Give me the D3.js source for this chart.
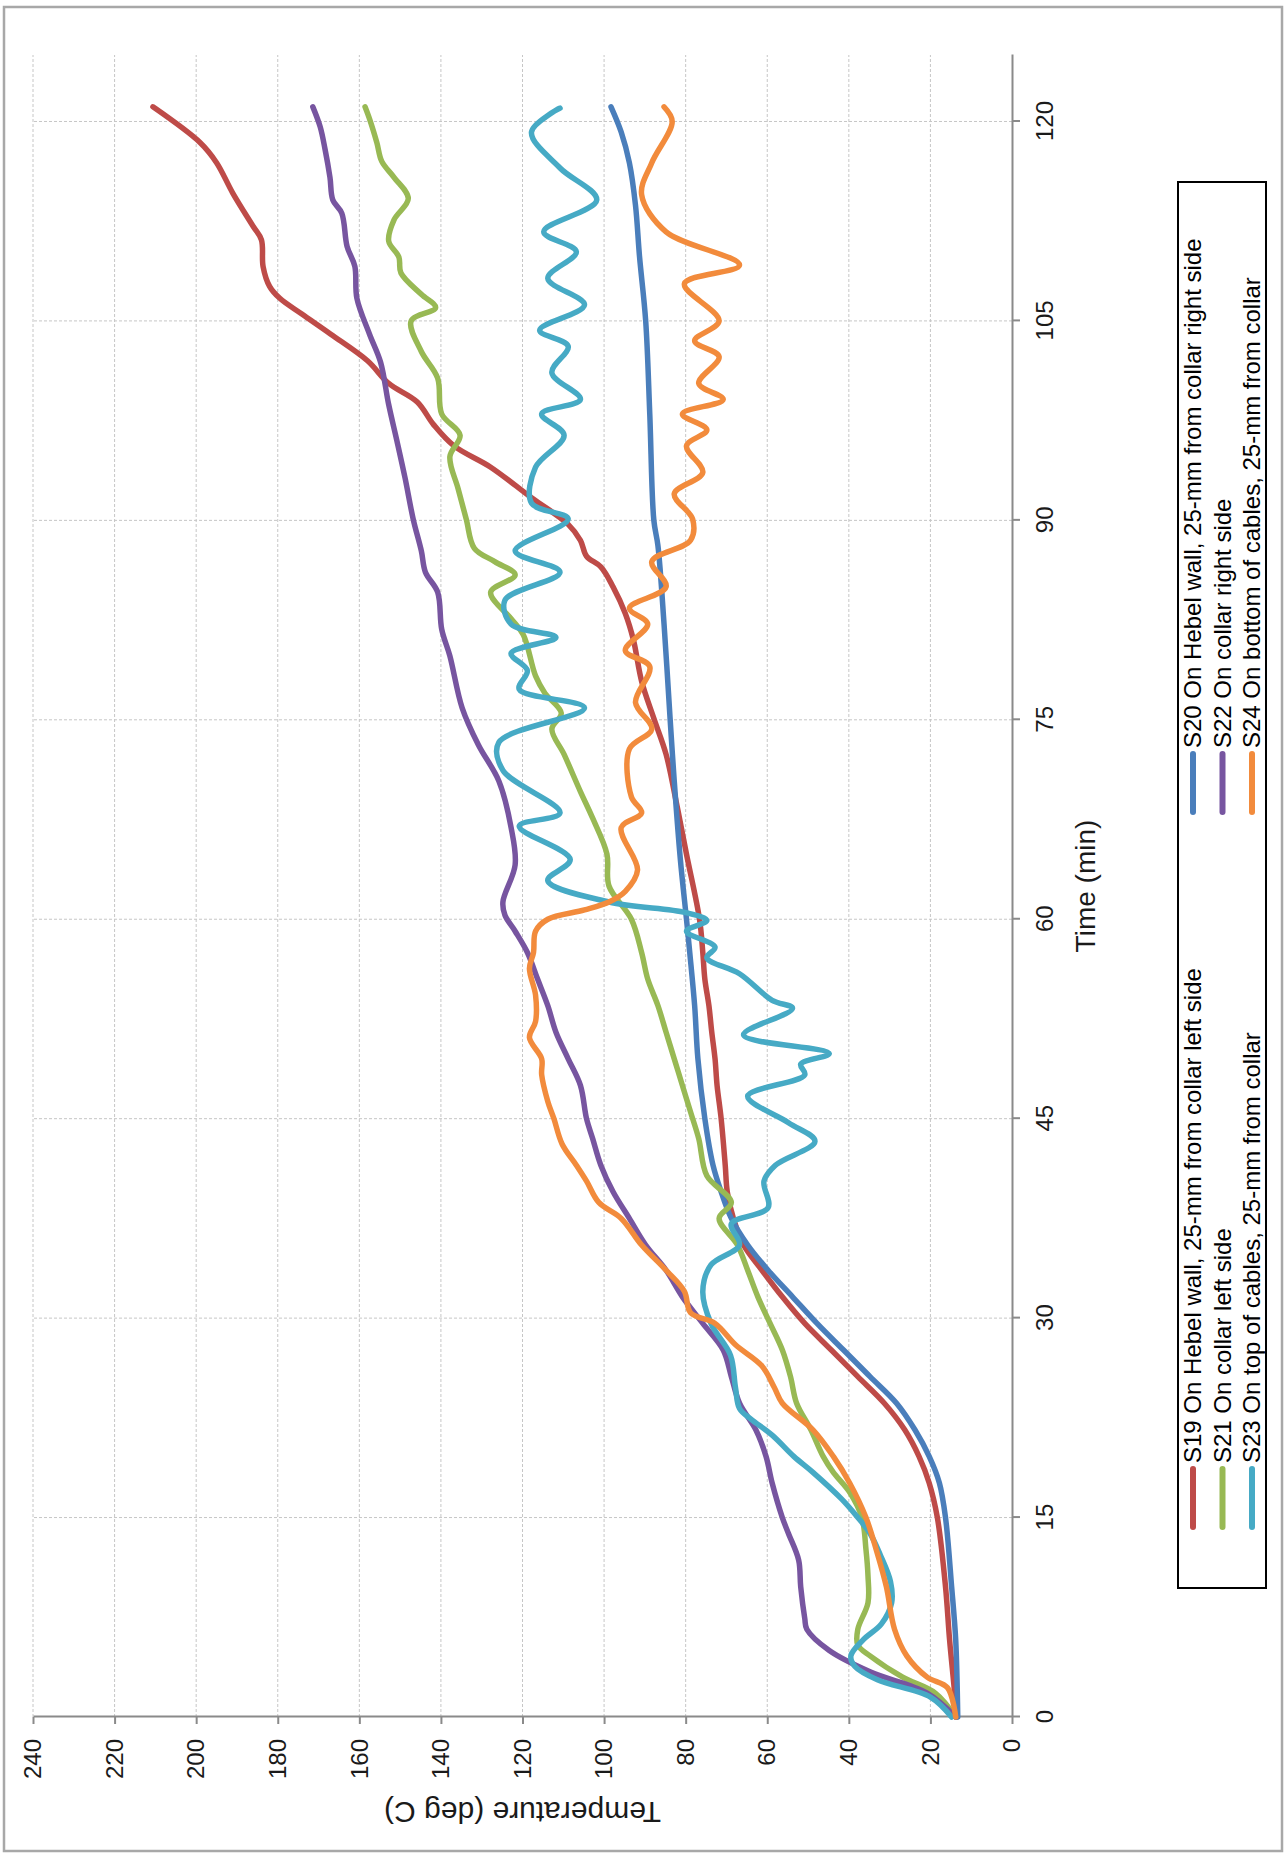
<!DOCTYPE html>
<html>
<head>
<meta charset="utf-8">
<script src="https://cdn.jsdelivr.net/npm/d3@7/dist/d3.min.js"></script>
<style>
  html, body { margin: 0; padding: 0; background: #fff; }
  svg { display: block; font-family: "Liberation Sans", Arial, sans-serif; }
</style>
</head>
<body>
<svg id="chart" width="1286" height="1854"></svg>
<script>
// ---- Data (time in min, temperature in deg C) ----
const timeTicks = [0, 15, 30, 45, 60, 75, 90, 105, 120];
const tempTicks = [0, 20, 40, 60, 80, 100, 120, 140, 160, 180, 200, 220, 240];

const seriesNames = [
  "S19 On Hebel wall, 25-mm from collar left side",
  "S20 On Hebel wall, 25-mm from collar right side",
  "S21 On collar left side",
  "S22 On collar right side",
  "S23 On top of cables, 25-mm from collar",
  "S24 On bottom of cables, 25-mm from collar"
];
const seriesColors = ["#BE4B48", "#4A7EBB", "#98B954", "#7755A0", "#46AAC5", "#F28B3C"];

const S19 = [[0,13.5],[2.6,14.3],[5.8,15.3],[9.8,16.3],[15,18.3],[17.6,20.3],[19.6,22.8],[21.6,26.3],[23.6,31.3],[25.6,37.8],[27.6,44.3],[29.6,50.8],[31.6,56.3],[33.6,61.3],[35.5,65.8],[37.5,68.3],[39.5,69.8],[41.5,70.3],[45,71.3],[47.5,72.3],[49.5,72.8],[51.5,73.6],[53.5,74.3],[55.5,75.3],[57.5,75.8],[60,76.6],[64.9,79.8],[68.8,82.3],[72.4,84.8],[75.1,87.8],[77.9,90.8],[81,92.8],[83,94.8],[85,97.8],[86.5,100.8],[87.3,104.3],[88.5,105.8],[89.7,108.8],[91.7,117.8],[94,127.8],[95.6,136.8],[97.2,141.8],[98.9,145.8],[100.3,152.8],[102,158],[104,167],[105.5,174],[106.7,179.5],[107.6,182],[109.1,183.6],[111.1,184],[112.1,186],[114.6,191],[116.9,195],[118.4,199],[121.1,210.6]];

const S20 = [[0,13.3],[5.8,13.8],[9.8,14.8],[15,16.3],[17.6,17.8],[19.6,20.3],[21.6,23.8],[23.6,28.3],[25.6,34.8],[27.6,41.3],[29.6,47.8],[31.6,53.8],[33.6,59.8],[35.5,64.8],[37.5,68.8],[39.5,71.3],[41.5,73.3],[45,75.3],[49.5,77],[53.5,77.8],[57.5,79],[60,79.8],[64.5,81.3],[70.4,82.8],[75,83.8],[82.2,85.3],[88.1,86.8],[90,87.8],[98,88.8],[105,89.8],[109.8,91.3],[113.7,92.3],[116.9,93.8],[119.2,95.8],[121.1,98.3]];

const S21 = [[0,13.8],[1.8,18.8],[3,26.8],[4.6,34.8],[5.4,37.8],[6.6,37.8],[8.6,35.3],[10.6,35.3],[12.6,35.8],[15,36.8],[16.9,39.8],[18.4,43.8],[19.6,46.3],[21.6,49.3],[23.6,52.8],[25.6,54.3],[27.6,56.3],[29.6,59.3],[31.6,62.3],[33.6,64.8],[35.5,67.3],[37.5,71.8],[38.7,68.8],[40.7,74.8],[43.5,76.8],[45.5,78.8],[47.5,80.8],[49.5,82.8],[51.5,84.8],[53.5,86.8],[55.5,89.3],[57.5,90.8],[60,93.3],[62.5,98.8],[64.9,99.3],[67.6,102.8],[69.6,105.8],[72.4,109.8],[74.3,112.8],[75.5,110.5],[77,114.5],[78.3,116.8],[81.4,119.8],[82.6,122.8],[84.6,127.8],[85.9,121.8],[86.9,126.8],[87.9,131.8],[90.1,133.8],[92.4,135.8],[94.8,137.8],[96.4,135.3],[98,139.8],[100.7,140.8],[102.7,144.8],[105,147.3],[106,141.3],[107,144.8],[108.6,149.8],[109.8,150.3],[111,152.8],[112.6,151.5],[114.2,148],[115.8,151.5],[117,154.5],[118.4,155.7],[120.1,157.4],[121.1,158.6]];

const S22 = [[0,13.8],[1.8,20.8],[3.4,34.8],[5,44.8],[6.6,50.3],[7.4,50.8],[9.8,51.8],[11.8,52.3],[13.8,54.8],[15,56.3],[17.6,58.8],[19.6,60.3],[21.6,62.8],[23.6,66.8],[25.6,68.8],[27.6,70.8],[29.6,75.8],[31.6,80.8],[33.6,84.8],[35.5,89.8],[37.5,93.8],[39.5,97.8],[41.5,100.8],[43.5,102.8],[45,104.3],[47.5,105.8],[49.5,108.8],[51.5,111.8],[53.5,113.8],[55.5,116.3],[57.5,118.8],[59.1,121.8],[60.3,124.3],[61.3,124.8],[64.1,121.8],[66.9,122.8],[70.4,125.8],[73.1,130.8],[75.9,134.8],[79.8,137.8],[81.8,139.8],[84.6,140.8],[86.1,143.8],[87.7,144.8],[90.1,146.8],[93.2,148.8],[96,150.8],[98.7,152.8],[101.9,154.8],[104,157.5],[106.7,160.6],[109.1,161.1],[110.6,163],[113.1,164.3],[114.1,166.5],[115.8,167.2],[117.9,168.4],[119.6,169.6],[121.1,171.4]];

const S23 = [[0,14.8],[1.5,20],[2.8,33],[3.8,38.5],[4.6,39.5],[5.8,36.5],[7,32],[8.6,29.5],[10.2,29.8],[12.2,32.3],[13.8,34.8],[15,37.8],[16.4,41.8],[18.4,48.8],[19.6,53.5],[21.2,58.8],[22.4,64],[23.2,66.8],[24.8,67.8],[27.2,69],[29.6,73.8],[32,75.8],[34,73.8],[35.5,66.8],[37.1,68.8],[38.3,59.8],[40.3,60.8],[41.5,58],[43.3,48.3],[44.7,54.8],[46.7,64.8],[48.3,50.8],[49.1,51.8],[49.9,44.8],[51.3,65.8],[53.3,53.8],[53.9,58.8],[55.9,66.8],[57.1,74.8],[57.9,72.8],[59.1,79.8],[59.9,74.8],[60.5,80],[61.3,98.8],[62.9,113.8],[64.5,108.3],[67,120.8],[68,110.8],[71.2,124.8],[73.3,125.8],[75.9,104.8],[77.3,120.8],[78.7,118.8],[80,122.8],[81.2,111.8],[82.2,122.8],[84,124.3],[86.1,110.8],[87.7,121.8],[90.1,108.8],[91.3,117.8],[94,116.8],[96.4,109.8],[98,115.3],[99.1,105.8],[101.1,112.8],[103.1,108.8],[104.3,115.8],[106.2,104.8],[108.2,113.8],[110.2,106.8],[111.7,114.8],[114.1,101.8],[116.5,110.8],[119.2,117.8],[121,110.8]];

const S24 = [[0,13.8],[2.2,15.8],[3,20.8],[4.6,25.8],[6.6,28.8],[9.8,30.8],[12.6,33.3],[15,35.8],[17.6,39.8],[19.6,43.8],[21.6,48.8],[23.6,56.3],[24.8,58.3],[26.4,61.3],[28,67.8],[29.6,72.8],[30.4,78.8],[32,80.3],[33.6,84.8],[35.5,90.8],[37.5,95.8],[38.7,101.3],[40.3,104.3],[41.5,106.8],[43.1,110.3],[45,112.3],[46.3,113.8],[48.3,115.3],[49.5,115.3],[51.1,118.3],[52.3,116.8],[54.3,116.8],[56.3,118.3],[57.5,117.3],[59.1,116.8],[60,113.8],[60.7,104.8],[61.3,98.8],[62.1,94.8],[63.7,91.8],[66.9,95.8],[68,90.8],[69.2,93.3],[72.8,93.8],[74.3,88.3],[76.3,92.3],[79,88.8],[80.2,94.8],[82.2,89.3],[83.4,93.8],[85,84.8],[86.9,88.3],[88.5,78.8],[90.1,78.3],[92,82.8],[93.6,75.8],[95.6,79.8],[96.8,74.8],[98,80.8],[99.1,70.8],[100.3,76.8],[102.3,71.8],[103.5,77.8],[105,71.8],[107.8,80.3],[109.2,66.8],[111.7,84.8],[114.5,90.8],[116.9,88.3],[120,83.3],[121.1,85.3]];

const seriesData = [S19, S20, S21, S22, S23, S24];

// ---- Drawing ----
const svg = d3.select("#chart");
svg.append("rect").attr("width", 1286).attr("height", 1854).attr("fill", "#fff");
svg.append("rect").attr("x", 4).attr("y", 7).attr("width", 1278).attr("height", 1844)
  .attr("fill", "none").attr("stroke", "#a8a8a8").attr("stroke-width", 2.5);

// The whole chart is drawn in an unrotated frame and turned 90deg counter-clockwise.
const g = svg.append("g").attr("transform", "translate(0,1854) rotate(-90)");

const x = d3.scaleLinear().domain([0, 125]).range([137, 1799]);
const y = d3.scaleLinear().domain([0, 240]).range([1012, 33]);

const grid = g.append("g");
grid.selectAll("line.vg").data(timeTicks.filter(t => t > 0)).enter().append("line")
  .attr("x1", d => x(d)).attr("x2", d => x(d)).attr("y1", y(0)).attr("y2", y(240))
  .attr("stroke", "#c6c6c6").attr("stroke-width", 1).attr("stroke-dasharray", "3,2");
grid.selectAll("line.hg").data(tempTicks.filter(t => t > 0)).enter().append("line")
  .attr("x1", x(0)).attr("x2", x(125)).attr("y1", d => y(d)).attr("y2", d => y(d))
  .attr("stroke", "#c6c6c6").attr("stroke-width", 1).attr("stroke-dasharray", "3,2");

const xAxis = g.append("g").attr("transform", `translate(0,${y(0)})`)
  .call(d3.axisBottom(x).tickValues(timeTicks).tickSize(8).tickSizeOuter(0).tickPadding(16));
const yAxis = g.append("g").attr("transform", `translate(${x(0)},0)`)
  .call(d3.axisLeft(y).tickValues(tempTicks).tickSize(7).tickSizeOuter(0).tickPadding(15));
[xAxis, yAxis].forEach(a => {
  a.select(".domain").attr("stroke", "#8a8a8a").attr("stroke-width", 2);
  a.selectAll(".tick line").attr("stroke", "#8a8a8a").attr("stroke-width", 2);
  a.selectAll(".tick text").attr("fill", "#1a1a1a").style("font-size", "24px")
    .style("font-family", "'Liberation Sans', Arial, sans-serif");
});

g.append("text").attr("x", (x(0) + x(125)) / 2).attr("y", 1095)
  .attr("text-anchor", "middle").attr("fill", "#1a1a1a").style("font-size", "28px")
  .text("Time (min)");
g.append("text").attr("transform", `translate(52,${(y(0) + y(240)) / 2}) rotate(-90)`)
  .attr("text-anchor", "middle").attr("fill", "#1a1a1a").style("font-size", "30px")
  .text("Temperature (deg C)");

const line = d3.line().x(d => x(d[0])).y(d => y(d[1])).curve(d3.curveCatmullRom.alpha(0.5));
g.append("g").selectAll("path").data(seriesData).enter().append("path")
  .attr("d", line).attr("fill", "none")
  .attr("stroke", (d, i) => seriesColors[i]).attr("stroke-width", 5.5)
  .attr("stroke-linejoin", "round").attr("stroke-linecap", "round");

// Legend (3 rows x 2 columns in the unrotated frame)
const leg = g.append("g");
leg.append("rect").attr("x", 266).attr("y", 1178).attr("width", 1406).attr("height", 88)
  .attr("fill", "#fff").attr("stroke", "#000").attr("stroke-width", 2);
const colX = [327, 1042];
const rowY = [1193, 1222.5, 1252];
seriesNames.forEach((name, i) => {
  const cx = colX[i % 2], cy = rowY[Math.floor(i / 2)];
  leg.append("line").attr("x1", cx).attr("x2", cx + 58).attr("y1", cy).attr("y2", cy)
    .attr("stroke", seriesColors[i]).attr("stroke-width", 6).attr("stroke-linecap", "round");
  leg.append("text").attr("x", cx + 64).attr("y", cy).attr("dy", "0.35em")
    .attr("fill", "#000").style("font-size", "24px").text(name);
});
</script>
</body>
</html>
